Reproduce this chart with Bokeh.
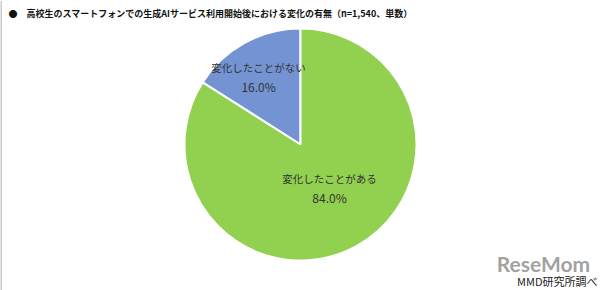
import math
from bokeh.plotting import figure
from bokeh.models import ColumnDataSource, Span
from bokeh.core.properties import value
from bokeh.embed import file_html
from bokeh.resources import INLINE

title = "●　高校生のスマートフォンでの生成AIサービス利用開始後における変化の有無（n=1,540、単数）"
categories = ["変化したことがない", "変化したことがある"]
shares = [16.0, 84.0]
colors = ["#7393D3", "#92D050"]
source_note = "MMD研究所調べ"

W, H = 600, 290
p = figure(width=W, height=H, x_range=(0, W), y_range=(0, H),
           output_backend="svg", toolbar_location=None, min_border=0)
p.axis.visible = False
p.grid.visible = False
p.outline_line_color = None
p.background_fill_color = "white"
p.border_fill_color = "white"

cx, cy, r = 300, 290 - 144, 116
total = sum(shares)
starts, ends, mids = [], [], []
a = math.pi / 2
for s in shares:
    span = 2 * math.pi * s / total
    starts.append(a)
    ends.append(a + span)
    mids.append(a + span / 2)
    a += span

src = ColumnDataSource(dict(start=starts, end=ends, color=colors))
p.wedge(x=cx, y=cy, radius=r, start_angle="start", end_angle="end",
        fill_color="color", line_color="white", line_width=2, source=src)

font = value("Noto Sans CJK JP")
label_r = [0.66, 0.43]
x_shift = [-5, 5]
lx = [cx + r * f * math.cos(m) + dx for f, m, dx in zip(label_r, mids, x_shift)]
ly = [cy + r * f * math.sin(m) for f, m in zip(label_r, mids)]
lsrc = ColumnDataSource(dict(
    x=lx, y=[v + 10 for v in ly], x2=lx, y2=[v - 9 for v in ly],
    cat=categories, pct=[f"{s:.1f}%" for s in shares]))
p.text(x="x", y="y", text="cat", source=lsrc, text_font=font,
       text_font_size="10.5px", text_color="#333333",
       text_align="center", text_baseline="middle")
p.text(x="x2", y="y2", text="pct", source=lsrc, text_font=font,
       text_font_size="12px", text_color="#333333",
       text_align="center", text_baseline="middle")

p.text(x=[8], y=[290 - 13], text=[title], text_font=font,
       text_font_size="9px", text_font_style="bold", text_color="#111111",
       text_align="left", text_baseline="middle")

p.text(x=[543], y=[290 - 263], text=["ReseMom"], text_font=value("Lato"),
       text_font_size="21px", text_font_style="bold", text_color="#888888",
       text_alpha=0.8, text_align="center", text_baseline="middle")
p.text(x=[597], y=[290 - 280], text=[source_note], text_font=font,
       text_font_size="11px", text_color="#222222",
       text_align="right", text_baseline="middle")

p.add_layout(Span(location=0.5, dimension="height", line_color="#999999", line_width=1))

open("out.html", "w").write(file_html(p, INLINE))
